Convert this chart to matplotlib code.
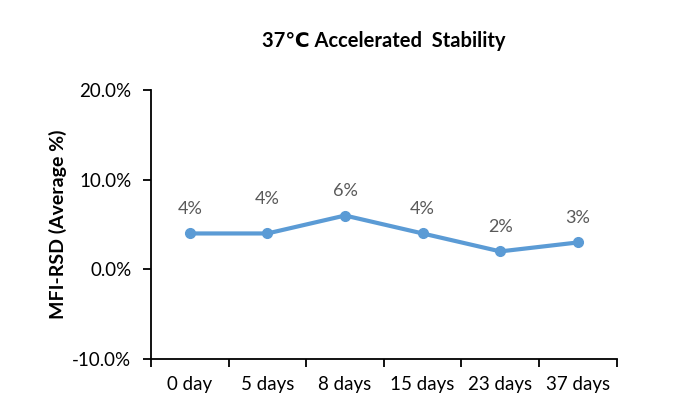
import matplotlib
matplotlib.use("Agg")
import matplotlib.pyplot as plt
from matplotlib.ticker import FixedLocator, PercentFormatter

categories = ["0 day", "5 days", "8 days", "15 days", "23 days", "37 days"]
values = [4.0, 4.0, 6.0, 4.0, 2.0, 3.0]
labels = ["4%", "4%", "6%", "4%", "2%", "3%"]
label_offsets = [12, 19, 12, 12, 12, 12]  # points above marker
title = "37\u2103 Accelerated  Stability"
ylabel = "MFI-RSD (Average %)"

plt.rcParams['font.family'] = ['Lato', 'DejaVu Sans']
plt.rcParams['axes.unicode_minus'] = False

fig = plt.figure(figsize=(6.83, 4.2), dpi=100)
ax = fig.add_axes([0.221, 0.145, 0.682, 0.641])

x = list(range(len(categories)))
ax.plot(x, values, color="#5B9BD5", lw=3, marker="o", ms=7, solid_capstyle="round")
for xi, v, lab, off in zip(x, values, labels, label_offsets):
    ax.annotate(lab, (xi, v), xytext=(0, off), textcoords="offset points",
                ha="center", va="bottom", fontsize=13, color="#595959")

ax.set_xlim(-0.5, len(categories) - 0.5)
ax.set_ylim(-10, 20)
ax.set_yticks([-10, 0, 10, 20])
ax.yaxis.set_major_formatter(PercentFormatter(decimals=1))
ax.set_xticks(x)
ax.set_xticklabels(categories)
ax.xaxis.set_minor_locator(FixedLocator([i - 0.5 for i in range(len(categories) + 1)]))
ax.tick_params(axis="x", which="major", length=0, pad=12, labelsize=13.5)
ax.tick_params(axis="x", which="minor", length=6, width=1.3, direction="out")
ax.tick_params(axis="y", length=6, width=1.3, pad=8, labelsize=13.5)

for s in ["top", "right"]:
    ax.spines[s].set_visible(False)
for s in ["left", "bottom"]:
    ax.spines[s].set_linewidth(1.3)

ax.set_ylabel(ylabel, fontsize=14, fontweight="bold", labelpad=4)
ax.set_title(title, fontsize=14.5, fontweight="bold", pad=31)

fig.savefig("out.png", dpi=100)
